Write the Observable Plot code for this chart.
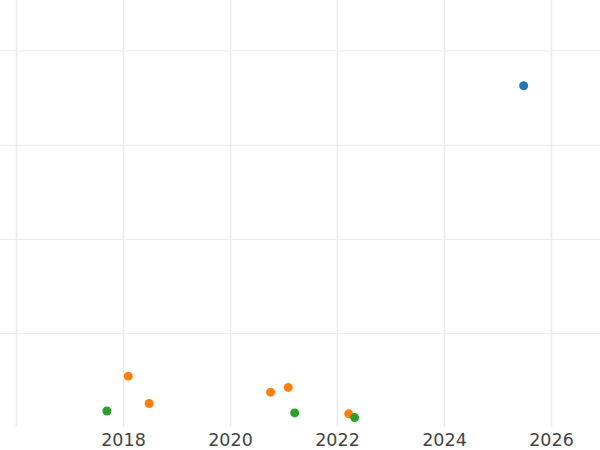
<!DOCTYPE html>
<html>
<head>
<meta charset="utf-8">
<script src="https://cdn.jsdelivr.net/npm/d3@7"></script>
<script src="https://cdn.jsdelivr.net/npm/@observablehq/plot@0.6"></script>
<style>
  html, body { margin: 0; padding: 0; background: #fff; }
  #chart svg { display: block; }
</style>
</head>
<body>
<div id="chart"></div>
<script>
const series = ["A", "B", "C"];
const colors = ["#1f77b4", "#ff7f0e", "#2ca02c"];

const aYear = [2025.48];
const aValue = [36.3];

const bYear = [2018.09, 2018.48, 2020.75, 2021.08, 2022.21];
const bValue = [5.5, 2.6, 3.8, 4.3, 1.5];

const cYear = [2017.69, 2021.20, 2022.32];
const cValue = [1.8, 1.6, 1.1];

const gridYears = [2016, 2018, 2020, 2022, 2024, 2026];
const tickYears = [2018, 2020, 2022, 2024, 2026];
const yTicks = [10, 20, 30, 40];

const data = [
  ...aYear.map((x, i) => ({series: "A", year: x, value: aValue[i]})),
  ...bYear.map((x, i) => ({series: "B", year: x, value: bValue[i]})),
  ...cYear.map((x, i) => ({series: "C", year: x, value: cValue[i]}))
];

const chart = Plot.plot({
  width: 600,
  height: 450,
  marginLeft: 0,
  marginRight: 0,
  marginTop: 0,
  marginBottom: 23,
  style: {fontFamily: "DejaVu Sans", fontSize: "17.5px", color: "#444", background: "#fff"},
  x: {domain: [2015.701, 2026.916], label: null, axis: null},
  y: {domain: [0.05, 45.35], label: null, axis: null},
  color: {domain: series, range: colors},
  marks: [
    Plot.gridY(yTicks, {stroke: "#ebebeb", strokeOpacity: 1, strokeWidth: 1, x1: 2015.701, x2: 2026.916}),
    Plot.gridX(gridYears, {stroke: "#ebebeb", strokeOpacity: 1, strokeWidth: 1.6}),
    Plot.axisX(tickYears, {tickSize: 0, tickPadding: 6, label: null, tickFormat: d => String(d), fill: "#444"}),
    Plot.dot(data, {x: "year", y: "value", fill: "series", r: 4.5, stroke: "none"})
  ]
});
document.getElementById("chart").appendChild(chart);
</script>
</body>
</html>
